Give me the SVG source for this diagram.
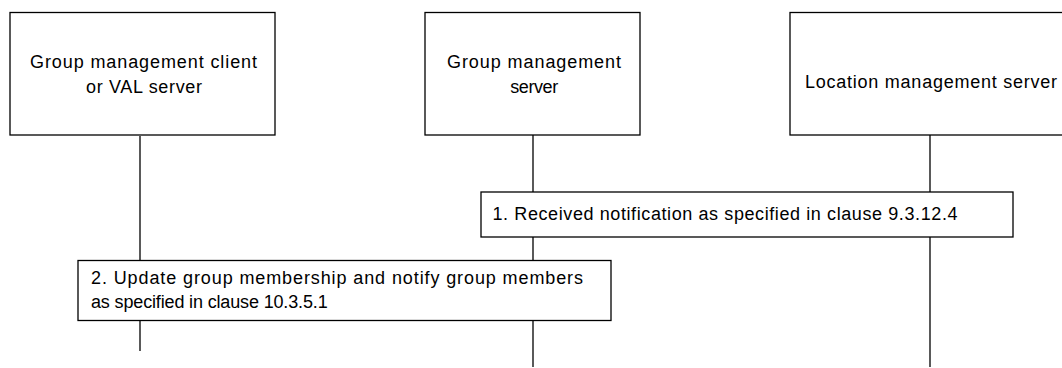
<svg xmlns="http://www.w3.org/2000/svg" width="1062" height="368" viewBox="0 0 1062 368">
<style>
.box{fill:#fff;stroke:#000;stroke-width:1.3}
.life{stroke:#000;stroke-width:1.3;fill:none}
text{font-family:"Liberation Sans",Arial,sans-serif;font-size:18px;fill:#000}
</style>
<rect width="1062" height="368" fill="#fff"/>
<g id="connectors">
<line class="life" x1="140" y1="136" x2="140" y2="351"/>
<line class="life" x1="533" y1="131" x2="533" y2="367"/>
<line class="life" x1="930" y1="133" x2="930" y2="367"/>
</g>
<g id="node-client">
<rect class="box" x="10" y="12.5" width="265" height="122.5"/>
<text x="30" y="68" textLength="227" lengthAdjust="spacing">Group management client</text>
<text x="86" y="93" textLength="116" lengthAdjust="spacing">or VAL server</text>
</g>
<g id="node-gms">
<rect class="box" x="425" y="12.5" width="215" height="122.5"/>
<text x="447" y="68" textLength="174" lengthAdjust="spacing">Group management</text>
<text x="534" y="93" text-anchor="middle" letter-spacing="-0.4">server</text>
</g>
<g id="node-lms">
<rect class="box" x="790" y="12.5" width="290" height="122.5"/>
<text x="805" y="88" textLength="252" lengthAdjust="spacing">Location management server</text>
</g>
<g id="step1">
<rect class="box" x="481" y="192" width="532" height="45"/>
<text x="492.5" y="220" textLength="465" lengthAdjust="spacing">1. Received notification as specified in clause 9.3.12.4</text>
</g>
<g id="step2">
<rect class="box" x="78" y="260.5" width="533" height="60"/>
<text x="91" y="284" textLength="492" lengthAdjust="spacing">2. Update group membership and notify group members</text>
<text x="91" y="308" letter-spacing="-0.15">as specified in clause 10.3.5.1</text>
</g>
</svg>
